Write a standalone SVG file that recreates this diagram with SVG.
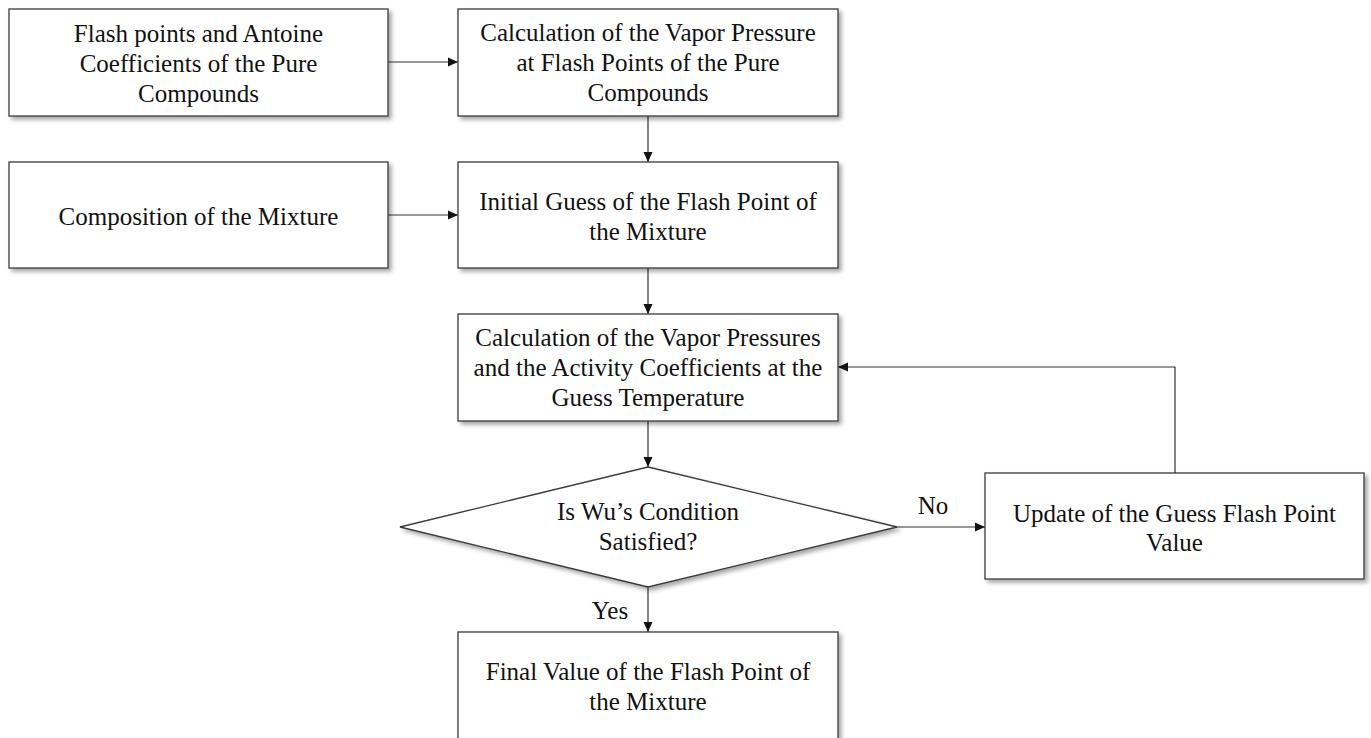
<svg xmlns="http://www.w3.org/2000/svg" width="1371" height="738" viewBox="0 0 1371 738">
<style>
.box{fill:#fff;stroke:#3a3a3a;stroke-width:1.3;filter:url(#sh)}
.t{font-family:"Liberation Serif","Times New Roman",serif;font-size:25px;fill:#111;text-anchor:middle}
.c{fill:none;stroke:#333;stroke-width:1.2;marker-end:url(#ar)}
</style>
<defs>
<filter id="sh" x="-5%" y="-10%" width="115%" height="130%">
<feDropShadow dx="3" dy="3" stdDeviation="2" flood-color="#000" flood-opacity="0.35"/>
</filter>
<marker id="ar" markerWidth="12" markerHeight="12" refX="10" refY="5.5" orient="auto" markerUnits="userSpaceOnUse">
<path d="M0,1 L10,5.5 L0,10 Z" fill="#111"/>
</marker>
</defs>
<g id="connectors">
<path class="c" d="M388,62 H458"/>
<path class="c" d="M388,215 H458"/>
<path class="c" d="M648,116 V162"/>
<path class="c" d="M648,268 V314"/>
<path class="c" d="M648,421 V467"/>
<path class="c" d="M897,527 H985"/>
<path class="c" d="M648,587 V632"/>
<path class="c" d="M1175,473 V367 H838"/>
<text class="t" x="610" y="619">Yes</text>
<text class="t" x="933" y="514">No</text>
</g>
<g id="n1">
<rect class="box" x="9" y="9" width="379" height="107"/>
<text class="t" x="198.5" y="42">Flash points and Antoine</text>
<text class="t" x="198.5" y="72">Coefficients of the Pure</text>
<text class="t" x="198.5" y="102">Compounds</text>
</g>
<g id="n2">
<rect class="box" x="458" y="9" width="380" height="107"/>
<text class="t" x="648" y="41">Calculation of the Vapor Pressure</text>
<text class="t" x="648" y="71">at Flash Points of the Pure</text>
<text class="t" x="648" y="101">Compounds</text>
</g>
<g id="n3">
<rect class="box" x="9" y="162" width="379" height="106"/>
<text class="t" x="198.5" y="225">Composition of the Mixture</text>
</g>
<g id="n4">
<rect class="box" x="458" y="162" width="380" height="106"/>
<text class="t" x="648" y="210">Initial Guess of the Flash Point of</text>
<text class="t" x="648" y="240">the Mixture</text>
</g>
<g id="n5">
<rect class="box" x="458" y="314" width="380" height="107"/>
<text class="t" x="648" y="346">Calculation of the Vapor Pressures</text>
<text class="t" x="648" y="376">and the Activity Coefficients at the</text>
<text class="t" x="648" y="406">Guess Temperature</text>
</g>
<g id="n6">
<polygon class="box" points="648,467 897,527 648,587 400,527"/>
<text class="t" x="648" y="520">Is Wu’s Condition</text>
<text class="t" x="648" y="550">Satisfied?</text>
</g>
<g id="n7">
<rect class="box" x="985" y="473" width="379" height="106"/>
<text class="t" x="1174.5" y="522">Update of the Guess Flash Point</text>
<text class="t" x="1174.5" y="551">Value</text>
</g>
<g id="n8">
<rect class="box" x="458" y="632" width="380" height="120"/>
<text class="t" x="648" y="680">Final Value of the Flash Point of</text>
<text class="t" x="648" y="710">the Mixture</text>
</g>
</svg>
